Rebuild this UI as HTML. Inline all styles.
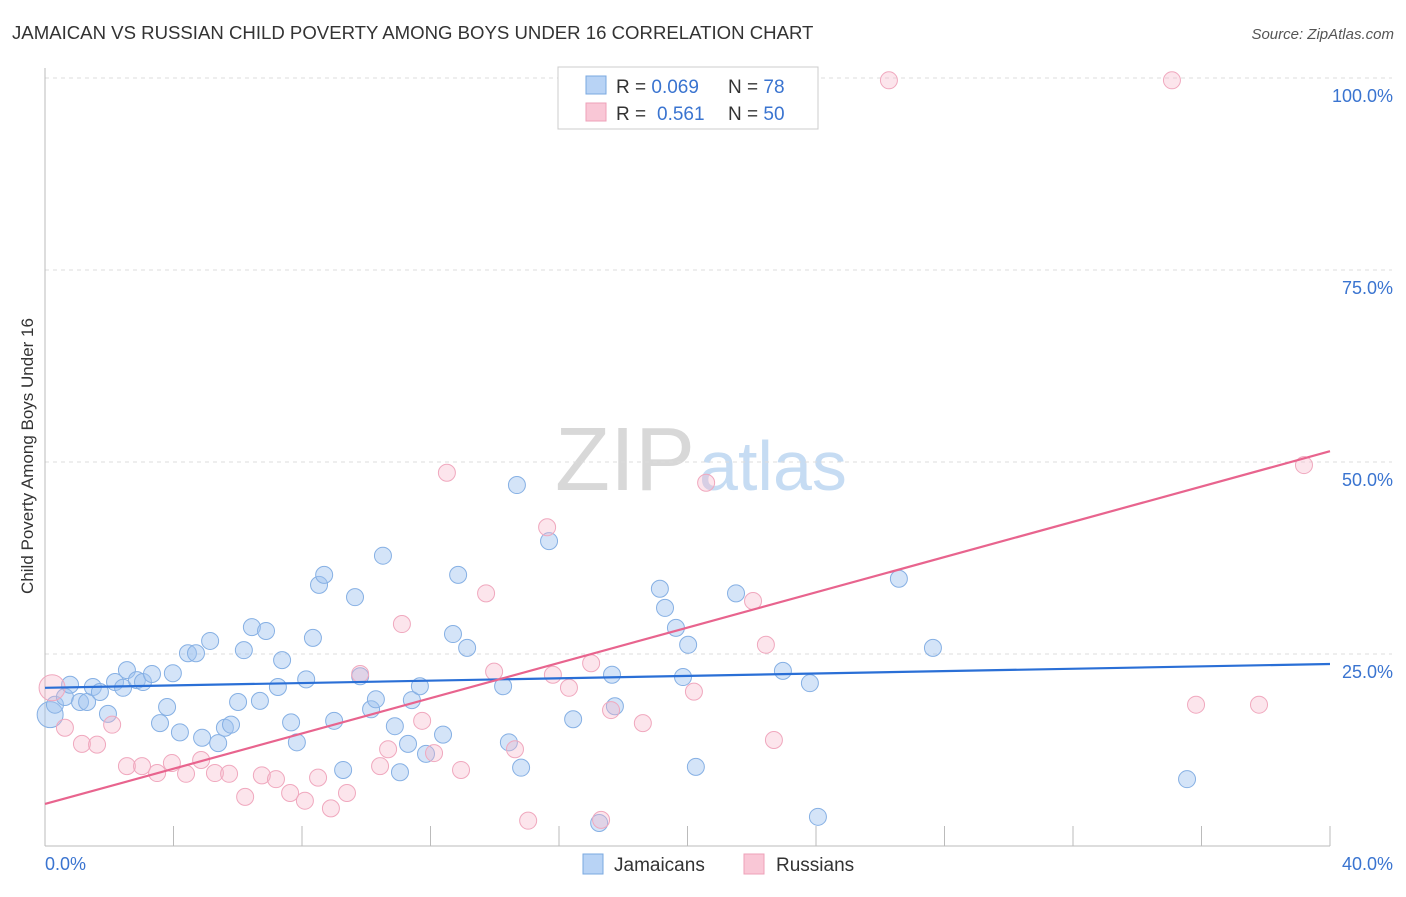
<!DOCTYPE html>
<html><head><meta charset="utf-8"><style>
body{margin:0;background:#fff;font-family:"Liberation Sans",sans-serif;}
svg text{font-family:"Liberation Sans",sans-serif;}
</style></head><body>
<svg id="chart" width="1406" height="892" xmlns="http://www.w3.org/2000/svg">
<text x="12" y="39" font-size="18.6" fill="#333">JAMAICAN VS RUSSIAN CHILD POVERTY AMONG BOYS UNDER 16 CORRELATION CHART</text>
<text x="1394" y="39" font-size="15" fill="#555" text-anchor="end" font-style="italic">Source: ZipAtlas.com</text>
<text x="555" y="490" font-size="90" fill="#d8d8d8" font-family="Liberation Serif">ZIP<tspan fill="#c6dcf3" font-family="Liberation Sans" font-size="70" dx="4">atlas</tspan></text>
<g id="grid"></g><g id="axes"></g><g id="marks"></g><g id="lines"></g>
<text transform="translate(33,456) rotate(-90)" font-size="17" fill="#333" text-anchor="middle">Child Poverty Among Boys Under 16</text>
<g>
<rect x="558" y="67" width="260" height="62" fill="#fff" stroke="#ccc"/>
<rect x="586" y="76" width="20" height="18" fill="#b8d3f5" stroke="#7aa8e0"/>
<rect x="586" y="103" width="20" height="18" fill="#f9c7d6" stroke="#eea0b8"/>
<text x="616" y="93" font-size="19" fill="#333">R = <tspan fill="#3a74d0">0.069</tspan><tspan x="728">N = </tspan><tspan fill="#3a74d0">78</tspan></text>
<text x="616" y="120" font-size="19" fill="#333">R = <tspan fill="#3a74d0" x="657">0.561</tspan><tspan x="728">N = </tspan><tspan fill="#3a74d0">50</tspan></text>
</g>
<g>
<rect x="583" y="854" width="20" height="20" fill="#b8d3f5" stroke="#7aa8e0"/>
<text x="614" y="871" font-size="19" fill="#333">Jamaicans</text>
<rect x="744" y="854" width="20" height="20" fill="#f9c7d6" stroke="#eea0b8"/>
<text x="776" y="871" font-size="19" fill="#333">Russians</text>
</g>
</svg>
<script>
const yTicks=[25,50,75,100];
const yTickLabels=["25.0%","50.0%","75.0%","100.0%"];
const xTicks=[0,4,8,12,16,20,24,28,32,36,40];
const jamX=[0.16,0.31,0.62,0.78,1.09,1.31,1.49,1.71,1.96,2.18,2.43,2.55,2.86,3.05,3.33,3.58,3.80,3.98,4.20,4.45,4.70,4.89,5.14,5.39,5.60,5.79,6.01,6.19,6.44,6.69,6.88,7.25,7.38,7.66,7.84,8.13,8.34,8.53,8.69,9.00,9.28,9.65,9.81,10.15,10.30,10.52,10.89,11.05,11.30,11.42,11.67,11.86,12.39,12.70,12.86,13.14,14.26,14.44,14.69,14.82,15.69,16.44,17.25,17.65,17.74,19.14,19.30,19.64,19.86,20.02,20.26,21.51,22.97,23.81,24.06,26.58,27.64,35.55];
const jamY=[17.1,18.4,19.4,21.0,18.75,18.75,20.7,20.05,17.2,21.35,20.6,22.9,21.6,21.35,22.4,16.0,18.1,22.5,14.8,25.1,25.1,14.1,26.7,13.4,15.4,15.8,18.75,25.5,28.5,18.9,28.0,20.7,24.2,16.1,13.5,21.7,27.1,34.0,35.3,16.3,9.9,32.4,22.1,17.8,19.1,37.8,15.6,9.6,13.3,19.0,20.8,12.0,14.5,27.6,35.3,25.8,20.8,13.5,47.0,10.2,39.7,16.5,3.0,22.3,18.2,33.5,31.0,28.4,22.0,26.2,10.3,32.9,22.8,21.2,3.8,34.8,25.8,8.7];
const rusX=[0.22,0.62,1.15,1.62,2.09,2.55,3.02,3.49,3.95,4.39,4.86,5.29,5.73,6.23,6.75,7.19,7.63,8.09,8.50,8.90,9.40,9.81,10.43,10.68,11.11,11.74,12.11,12.51,12.95,13.73,13.98,14.63,15.04,15.63,15.81,16.31,17.00,17.31,17.62,18.61,20.20,20.58,22.04,22.44,22.69,26.27,35.08,35.83,37.79,39.19];
const rusY=[20.6,15.4,13.3,13.2,15.8,10.4,10.4,9.5,10.8,9.4,11.2,9.5,9.4,6.4,9.2,8.7,6.9,5.9,8.9,4.9,6.9,22.4,10.4,12.6,28.9,16.3,12.1,48.6,9.9,32.9,22.7,12.6,3.3,41.5,22.3,20.6,23.8,3.4,17.7,16.0,20.1,47.3,31.9,26.2,13.8,99.7,99.7,18.4,18.4,49.6];
const jamTrend=[20.6,23.7];
const rusTrend=[5.47,51.4];
const NS="http://www.w3.org/2000/svg";
const X=v=>45+v*32.125, Y=v=>846-v*7.68;
function mk(tag,attrs,parent){const e=document.createElementNS(NS,tag);for(const k in attrs)e.setAttribute(k,attrs[k]);document.getElementById(parent).appendChild(e);return e;}
yTicks.forEach((t,i)=>{
 const g=mk('line',{x1:45,x2:1392,y1:Y(t),y2:Y(t),stroke:'#ddd','stroke-dasharray':'4,4'},'grid');
 
 
 const l=mk('text',{x:1393,y:Y(t)+24,'font-size':18,fill:'#3a74d0','text-anchor':'end'},'axes');
 l.textContent=yTickLabels[i];
 
 
});
const ax=mk('line',{x1:45,x2:45,y1:68,y2:846,stroke:'#bbb'},'axes');


const bx=mk('line',{x1:45,x2:1330,y1:846,y2:846,stroke:'#bbb'},'axes');


xTicks.forEach(t=>{
 const k=mk('line',{x1:X(t),x2:X(t),y1:826,y2:846,stroke:'#bbb'},'axes');
 
 
});
const x0=mk('text',{x:45,y:870,'font-size':18,fill:'#3a74d0'},'axes');x0.textContent='0.0%';


const x1=mk('text',{x:1393,y:870,'font-size':18,fill:'#3a74d0','text-anchor':'end'},'axes');x1.textContent='40.0%';


function pts(xs,ys,fill,stroke,name){xs.forEach((x,i)=>{
 const r=(i===0)?13:8.5;
 const c=mk('circle',{cx:X(x),cy:Y(ys[i]),r:r,fill:fill,stroke:stroke,'stroke-width':1},'marks');
 
 
});}
pts(jamX,jamY,'rgba(160,195,240,0.45)','#86b0e4','jamaican-point');
pts(rusX,rusY,'rgba(245,180,200,0.35)','#f0a8be','russian-point');
const t1=mk('line',{x1:X(0),x2:X(40),y1:Y(jamTrend[0]),y2:Y(jamTrend[1]),stroke:'#2a6fd6','stroke-width':2.2},'lines');


const t2=mk('line',{x1:X(0),x2:X(40),y1:Y(rusTrend[0]),y2:Y(rusTrend[1]),stroke:'#e8648e','stroke-width':2.2},'lines');


</script>
</body></html>
